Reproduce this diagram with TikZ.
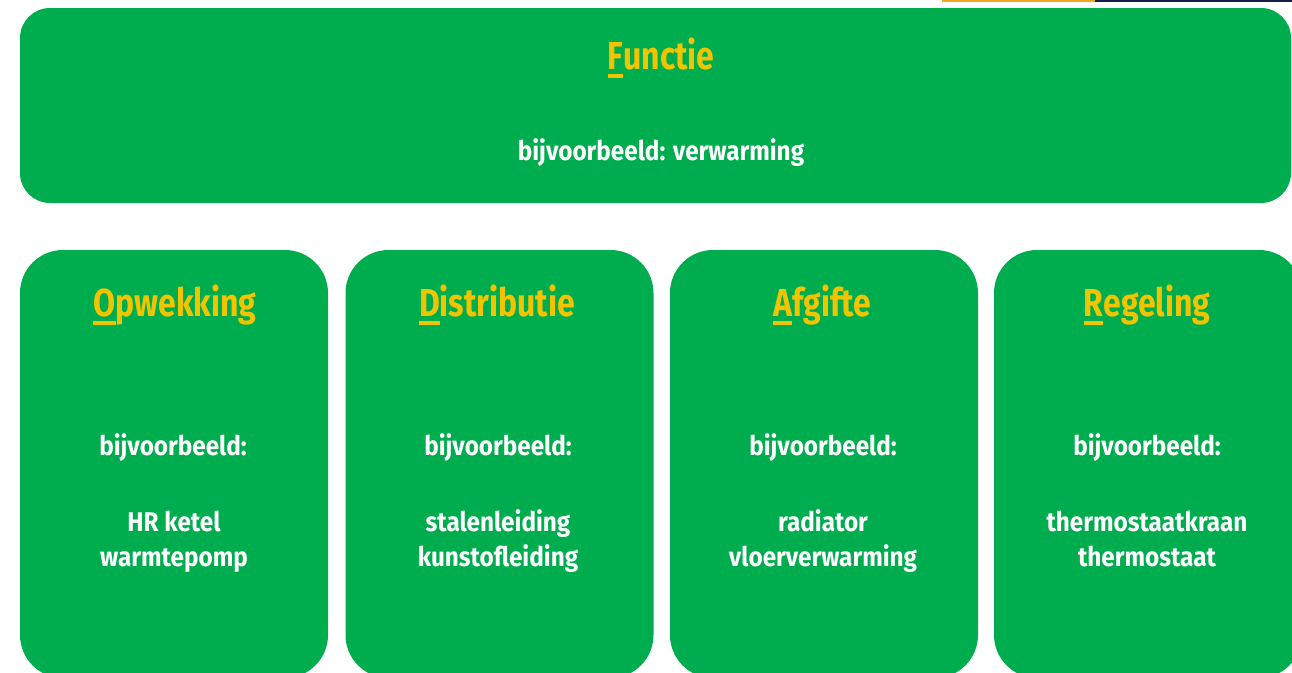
\documentclass[tikz,border=0pt]{standalone}
\usepackage{fontspec}
\setmainfont{Fira Sans}[FakeStretch=0.82]
\newfontfamily\bodyfont{Fira Sans}[FakeStretch=0.9]
\definecolor{boxgreen}{RGB}{0,173,78}
\definecolor{titleyellow}{RGB}{242,196,0}
\definecolor{topbar}{RGB}{245,166,35}
\definecolor{topnavy}{RGB}{20,30,70}
\newcommand\firstul[1]{\setbox0\hbox{#1}\rlap{\rule[-8.5pt]{\wd0}{4pt}}\box0}
\begin{document}
\begin{tikzpicture}[x=1pt,y=-1pt,
  panel/.style={draw=none, fill=boxgreen, rounded corners=#1, inner sep=0pt},
  heading/.style={text=titleyellow, font=\bfseries\fontsize{39}{41}\selectfont, anchor=base, inner sep=0pt},
  bodytext/.style={text=white, font=\bodyfont\bfseries\fontsize{27}{35}\selectfont, align=center, anchor=base, inner sep=0pt}]
\useasboundingbox (0,0) rectangle (1292,672);
\clip (0,0) rectangle (1292,672);
\fill[topbar] (942,0) rectangle (1095,1.5);
\fill[topnavy] (1095,0) rectangle (1292,1.5);
% panels
\node[panel=30pt, minimum width=1271pt, minimum height=195pt] (functie) at (655.5,105.5) {};
\node[panel=43pt, minimum width=308pt, minimum height=428pt] (opw) at (174,464) {};
\node[panel=43pt, minimum width=308pt, minimum height=428pt] (dis) at (499.5,464) {};
\node[panel=43pt, minimum width=308pt, minimum height=428pt] (afg) at (824,464) {};
\node[panel=43pt, minimum width=308pt, minimum height=428pt] (reg) at (1148,464) {};
% top texts
\node[heading] (functie-t) at (661,69) {\firstul{F}unctie};
\node[bodytext] (functie-ex) at (661,160) {bijvoorbeeld: verwarming};
% headings
\node[heading] (opw-t) at (175,316) {\firstul{O}pwekking};
\node[heading] (dis-t) at (497,316) {\firstul{D}istributie};
\node[heading] (afg-t) at (822,316) {\firstul{A}fgifte};
\node[heading] (reg-t) at (1147,316) {\firstul{R}egeling};
% examples
\node[bodytext] (opw-ex) at (173,455) {bijvoorbeeld:};
\node[bodytext] (dis-ex) at (498,455) {bijvoorbeeld:};
\node[bodytext] (afg-ex) at (823,455) {bijvoorbeeld:};
\node[bodytext] (reg-ex) at (1147,455) {bijvoorbeeld:};
\node[bodytext] (opw-it) at (174,566) {HR ketel\\warmtepomp};
\node[bodytext] (dis-it) at (498,566) {stalenleiding\\kunstofleiding};
\node[bodytext] (afg-it) at (823,566) {radiator\\vloerverwarming};
\node[bodytext] (reg-it) at (1147,566) {thermostaatkraan\\thermostaat};
\end{tikzpicture}
\end{document}
